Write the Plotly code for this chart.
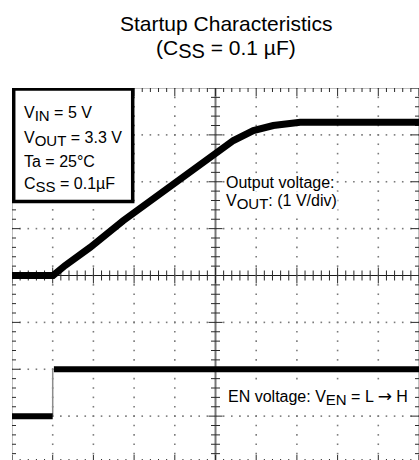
import numpy as np
import plotly.graph_objects as go

# ---- captured waveforms (time in horizontal divisions, 10 div full screen) ----
# Output voltage channel, 1 V/div, ground on the centre line
t_vout = [0.0, 1.01, 1.30, 1.92, 2.73, 3.56, 4.37, 4.95, 5.44, 5.93, 6.42, 7.08, 10.0]
v_vout = [0.0, 0.0, 0.21, 0.60, 1.17, 1.70, 2.24, 2.59, 2.88, 3.09, 3.20, 3.27, 3.27]

# Enable pin channel, 5 V/div, ground three divisions below centre
t_en = [0.0, 1.0, 1.03, 10.0]
v_en = [0.0, 0.0, 5.0, 5.0]

VOUT_V_PER_DIV, VOUT_OFFSET = 1.0, 0.0
EN_V_PER_DIV, EN_OFFSET = 5.0, -3.0


def sub(s, size):
    # subscript drawn almost full size, lowered a few pixels
    return f"<span style='font-size:{size}px;baseline-shift:-3px'>{s}</span>"


ARROW = "<span style='font-family:DejaVu Sans;font-size:17px'>→</span>"

legend_lines = [
    "V" + sub("IN", 15) + " = 5 V",
    "V" + sub("OUT", 15) + " = 3.3 V",
    "Ta = 25°C",
    "C" + sub("SS", 15) + " = 0.1µF",
]
title_lines = [
    "Startup Characteristics",
    "(C" + sub("SS", 20) + " = 0.1 µF)",
]

# ---- page geometry ----
W, H = 419, 460
ML, MT = 12, 88
PW, PH = W - ML, H - MT
X_RANGE = [0.0, 10.0]
Y_TOP = 4.0
Y_LO = Y_TOP - 4.0 * PH / 187.5
PXX = PW / (X_RANGE[1] - X_RANGE[0])
PXY = PH / (Y_TOP - Y_LO)


def xpx(px):
    return (px - ML) / PXX


def ypx(py):
    return Y_TOP - (py - MT) / PXY


FONT = "Liberation Sans, Arial, sans-serif"

fig = go.Figure()

# ---- graticule dots ----
gx, gy = [], []
for yy in range(-3, 4):
    if yy == 0:
        continue
    for xx in np.arange(0, 10.001, 0.2):
        gx.append(xx); gy.append(yy)
for xx in range(1, 10):
    if xx == 5:
        continue
    for yy in np.arange(-4, 4.001, 0.2):
        gx.append(xx); gy.append(yy)
fig.add_trace(go.Scatter(x=gx, y=gy, mode="markers", hoverinfo="skip",
                         marker=dict(symbol="square", size=1.6, color="#7a7a7a", line=dict(width=0))))

# ---- tick marks on the frame and on the centre axes ----
sx, sy = [], []


def seg(x0, y0, x1, y1):
    sx.extend([x0, x1, None]); sy.extend([y0, y1, None])


for k in range(0, 51):
    xx = k * 0.2
    major = (k % 5 == 0)
    L = 8 if major else 4
    seg(xx, -4, xx, -4 + L / PXY)            # bottom edge
    seg(xx, 4, xx, 4 - L / PXY)              # top edge
    c = 8 if major else 5
    seg(xx, -c / PXY, xx, c / PXY)           # horizontal centre axis
for k in range(0, 41):
    yy = -4 + k * 0.2
    major = (k % 5 == 0)
    L = 8 if major else 4
    seg(0, yy, L / PXX, yy)                  # left edge
    seg(10, yy, 10 - L / PXX, yy)            # right edge
    c = 7 if major else 4.5
    seg(5 - c / PXX, yy, 5 + c / PXX, yy)    # vertical centre axis
fig.add_trace(go.Scatter(x=sx, y=sy, mode="lines", hoverinfo="skip",
                         line=dict(color="#2a2a2a", width=1)))

# centre axes
fig.add_shape(type="line", x0=0, x1=10, y0=0, y1=0, line=dict(color="#1a1a1a", width=1), layer="below")
fig.add_shape(type="line", x0=5, x1=5, y0=-4, y1=4, line=dict(color="#777777", width=2), layer="below")
# frame
fig.add_shape(type="rect", x0=0, x1=10, y0=-4, y1=4, line=dict(color="#808080", width=1), layer="below")

# ---- waveforms ----
vout_div = [VOUT_OFFSET + v / VOUT_V_PER_DIV for v in v_vout]
fig.add_trace(go.Scatter(x=t_vout, y=vout_div, mode="lines", hoverinfo="skip",
                         line=dict(color="black", width=7)))

en_div = [EN_OFFSET + v / EN_V_PER_DIV for v in v_en]
lvl_x, lvl_y, edge_x, edge_y = [], [], [], []
for i in range(len(t_en) - 1):
    if en_div[i] == en_div[i + 1]:
        lvl_x += [t_en[i], t_en[i + 1], None]; lvl_y += [en_div[i], en_div[i + 1], None]
    else:
        edge_x += [t_en[i], t_en[i], None]; edge_y += [en_div[i], en_div[i + 1], None]
fig.add_trace(go.Scatter(x=edge_x, y=edge_y, mode="lines", hoverinfo="skip",
                         line=dict(color="#8c8c8c", width=1.5)))
fig.add_trace(go.Scatter(x=lvl_x, y=lvl_y, mode="lines", hoverinfo="skip",
                         line=dict(color="black", width=6)))

# ---- condition box ----
fig.add_shape(type="rect", x0=xpx(13.7), x1=xpx(132.7), y0=ypx(89), y1=ypx(201.5),
              line=dict(color="black", width=3.5), fillcolor="white", layer="above")

annotations = []
for txt, cy in zip(legend_lines, [114, 139, 161.5, 185]):
    annotations.append(dict(x=xpx(22), y=ypx(cy), xref="x", yref="y", text=txt,
                            showarrow=False, xanchor="left", yanchor="middle",
                            font=dict(size=16, color="black", family=FONT)))

annotations.append(dict(x=xpx(225), y=ypx(182.5), xref="x", yref="y",
                        text="Output voltage:", showarrow=False, xanchor="left", yanchor="middle",
                        bgcolor="white", borderpad=0,
                        font=dict(size=16, color="black", family=FONT)))
annotations.append(dict(x=xpx(225), y=ypx(202), xref="x", yref="y",
                        text="V" + sub("OUT", 15) + ": (1 V/div)",
                        showarrow=False, xanchor="left", yanchor="middle",
                        bgcolor="white", borderpad=0,
                        font=dict(size=16, color="black", family=FONT)))
annotations.append(dict(x=xpx(227), y=ypx(397), xref="x", yref="y",
                        text="EN voltage: V" + sub("EN", 15) + " = L " + ARROW + " H",
                        showarrow=False, xanchor="left", yanchor="middle",
                        bgcolor="white", borderpad=0,
                        font=dict(size=16, color="black", family=FONT)))

# ---- title (positions given in page pixels, converted to plot-area paper units) ----
for txt, cy in zip(title_lines, [23.5, 49]):
    annotations.append(dict(x=(225.5 - ML) / PW, y=(H - cy) / PH, xref="paper", yref="paper",
                            text=txt, showarrow=False, xanchor="center", yanchor="middle",
                            font=dict(size=21, color="black", family=FONT)))

fig.update_layout(
    width=W, height=H,
    margin=dict(l=ML, r=0, t=MT, b=0, pad=0),
    paper_bgcolor="white", plot_bgcolor="white",
    showlegend=False,
    xaxis=dict(visible=False, range=X_RANGE, fixedrange=True),
    yaxis=dict(visible=False, range=[Y_LO, Y_TOP], fixedrange=True),
    annotations=annotations,
    font=dict(family=FONT, color="black"),
)

fig.write_html("out.html")
